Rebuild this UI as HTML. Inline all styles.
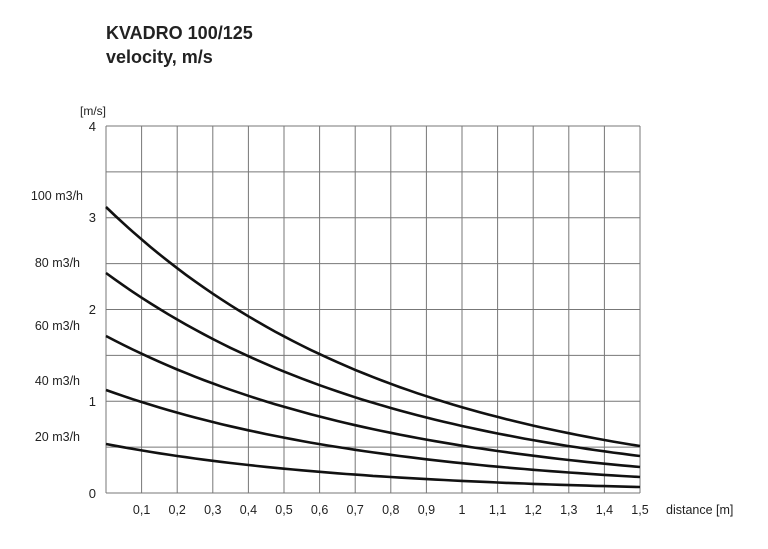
<!DOCTYPE html>
<html><head><meta charset="utf-8"><style>
body{margin:0;background:#fff;width:768px;height:544px;overflow:hidden}
svg text{font-family:"Liberation Sans",sans-serif;fill:#222}
</style></head><body>
<svg id="s" width="768" height="544" xmlns="http://www.w3.org/2000/svg">
<text x="106" y="39" font-size="18" font-weight="bold">KVADRO 100/125</text>
<text x="106" y="63" font-size="18" font-weight="bold">velocity, m/s</text>
<text x="80" y="115" font-size="12">[m/s]</text>
<g font-size="13" text-anchor="end">
<text x="96" y="131">4</text><text x="96" y="222">3</text><text x="96" y="314">2</text><text x="96" y="406">1</text><text x="96" y="498">0</text>
</g>
<g font-size="12.5" text-anchor="end">
<text x="83" y="200">100 m3/h</text><text x="80" y="267">80 m3/h</text><text x="80" y="330">60 m3/h</text><text x="80" y="385">40 m3/h</text><text x="80" y="441">20 m3/h</text>
</g>
<g id="grid" stroke="#777" stroke-width="1" fill="none"></g>
<g id="xl" font-size="12.5" text-anchor="middle"></g>
<text x="666" y="514" font-size="12.5">distance [m]</text>
<g id="c" stroke="#111" stroke-width="2.6" fill="none"></g>
</svg>
<script>
var L=106,R=640,T=126,B=493,ns="http://www.w3.org/2000/svg";
function el(p,n,a,t){var e=document.createElementNS(ns,n);for(var k in a)e.setAttribute(k,a[k]);if(t)e.textContent=t;document.getElementById(p).appendChild(e);}
for(var i=0;i<=15;i++){var x=L+i*(R-L)/15;el("grid","line",{x1:x,y1:T,x2:x,y2:B});
if(i>0)el("xl","text",{x:x,y:514},i==10?"1":(i<10?"0,"+i:"1,"+(i-10)));}
for(var j=0;j<=8;j++){var y=T+j*(B-T)/8;el("grid","line",{x1:L,y1:y,x2:R,y2:y});}
var c=[[207,446],[273,456],[336,467],[390,477],[444,487]];
c.forEach(function(p){var v0=(B-p[0]),v1=(B-p[1]),k=-Math.log(v1/v0)/1.5,d="";
for(var t=0;t<=60;t++){var xv=t*1.5/60,x=L+xv*(R-L)/1.5,y=B-v0*Math.exp(-k*xv);d+=(t?"L":"M")+x.toFixed(1)+","+y.toFixed(1);}
el("c","path",{d:d});});
</script>
</body></html>
